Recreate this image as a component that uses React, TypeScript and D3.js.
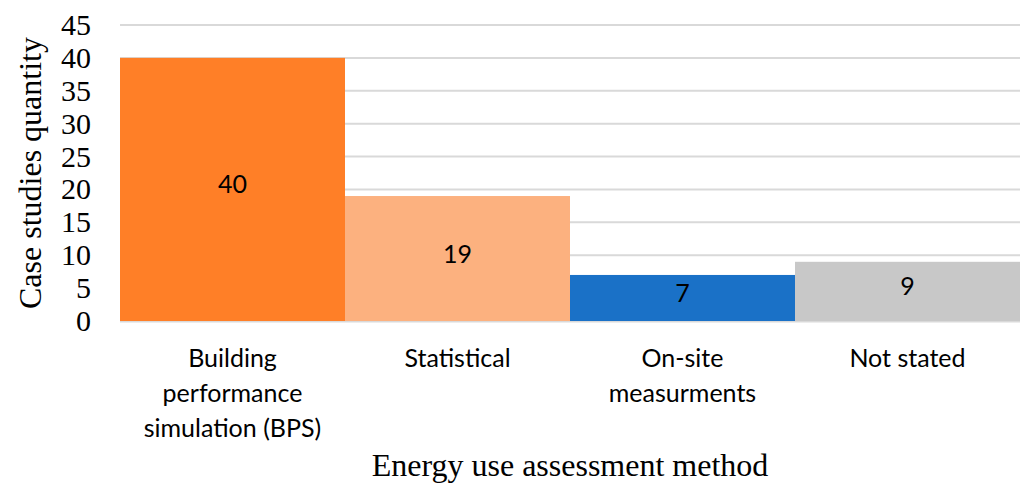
import { useEffect, useRef } from "react";
import * as d3 from "d3";

const CATEGORIES = [
  ["Building", "performance", "simulation (BPS)"],
  ["Statistical"],
  ["On-site", "measurments"],
  ["Not stated"],
];
const VALUES = [40, 19, 7, 9];
const COLORS = ["#FF7F27", "#FCB17F", "#1A71C7", "#C8C8C8"];
const Y_TICKS = [0, 5, 10, 15, 20, 25, 30, 35, 40, 45];

export default function App() {
  const ref = useRef<SVGSVGElement>(null);

  useEffect(() => {
    const el = ref.current;
    if (!el) return;
    const W = 1022, H = 484;
    const M = { top: 25, right: 2, bottom: 163, left: 120 };
    const svg = d3.select(el).attr("width", W).attr("height", H);
    svg.selectAll("*").remove();

    const data = VALUES.map((v, i) => ({ i, v, lines: CATEGORIES[i], color: COLORS[i] }));
    const x = d3.scaleBand<number>().domain(data.map((d) => d.i)).range([M.left, W - M.right]).padding(0);
    const y = d3.scaleLinear().domain([0, 45]).range([H - M.bottom, M.top]);

    // gridlines
    svg.append("g").selectAll("line").data(Y_TICKS).join("line")
      .attr("x1", M.left).attr("x2", W - M.right)
      .attr("y1", (d) => y(d)).attr("y2", (d) => y(d))
      .attr("stroke", "#D9D9D9").attr("stroke-width", (d) => (d === 0 ? 3 : 2));

    // bars
    svg.append("g").selectAll("rect").data(data).join("rect")
      .attr("x", (d) => x(d.i) ?? 0).attr("width", x.bandwidth())
      .attr("y", (d) => y(d.v)).attr("height", (d) => y(0) - y(d.v))
      .attr("fill", (d) => d.color);

    // value labels
    svg.append("g").selectAll("text").data(data).join("text")
      .attr("x", (d) => (x(d.i) ?? 0) + x.bandwidth() / 2)
      .attr("y", (d) => (y(d.v) + y(0)) / 2 + 4)
      .attr("text-anchor", "middle")
      .attr("font-family", "Lato, 'Noto Sans', sans-serif").attr("font-size", 25)
      .attr("fill", "#000").text((d) => d.v);

    // y tick labels
    svg.append("g").selectAll("text").data(Y_TICKS).join("text")
      .attr("x", 91).attr("y", (d) => y(d) + 10)
      .attr("text-anchor", "end")
      .attr("font-family", "'Liberation Serif', 'Times New Roman', serif").attr("font-size", 30)
      .attr("fill", "#000").text((d) => d);

    // category labels
    const cat = svg.append("g").selectAll("text").data(data).join("text")
      .attr("text-anchor", "middle")
      .attr("font-family", "Lato, 'Noto Sans', sans-serif").attr("font-size", 25)
      .attr("fill", "#000");
    cat.selectAll("tspan").data((d) => d.lines.map((l) => ({ l, cx: (x(d.i) ?? 0) + x.bandwidth() / 2 })))
      .join("tspan")
      .attr("x", (t) => t.cx).attr("y", (_t, j) => 367 + j * 35)
      .text((t) => t.l);

    // axis titles
    svg.append("text")
      .attr("x", (M.left + W - M.right) / 2).attr("y", 476)
      .attr("text-anchor", "middle")
      .attr("font-family", "'Liberation Serif', 'Times New Roman', serif").attr("font-size", 32)
      .attr("fill", "#000").text("Energy use assessment method");

    svg.append("text")
      .attr("transform", `translate(41,${(M.top + H - M.bottom) / 2}) rotate(-90)`)
      .attr("text-anchor", "middle")
      .attr("font-family", "'Liberation Serif', 'Times New Roman', serif").attr("font-size", 32)
      .attr("fill", "#000").text("Case studies quantity");
  }, []);

  return (
    <svg ref={ref} role="img" aria-label="Case studies by energy use assessment method"
      style={{ position: "absolute", left: 0, top: 0, background: "#fff" }} />
  );
}
